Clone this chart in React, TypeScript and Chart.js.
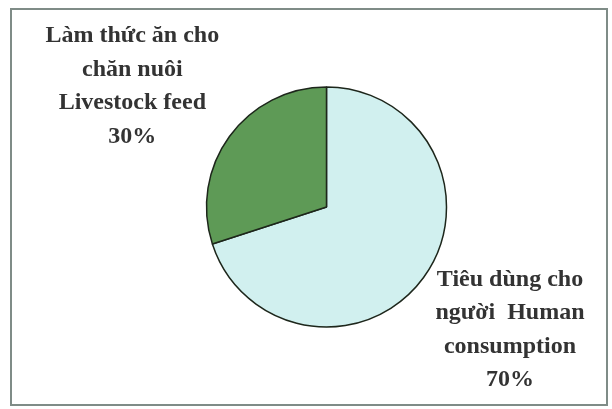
import React, { useEffect, useRef } from "react";
import { Chart, registerables } from "chart.js";

Chart.register(...registerables);

const categories: string[][] = [
  ["Tiêu dùng cho", "người  Human", "consumption"],
  ["Làm thức ăn cho", "chăn nuôi", "Livestock feed"],
];
const shareValues: number[] = [70, 30];
const sliceColors: string[] = ["#d1f0ef", "#5e9a56"];
// label placement factors (relative to outer radius, along slice mid-angle)
const labelFactors: { kx: number; ky: number }[] = [
  { kx: 1.89, ky: 1.74 },
  { kx: 2.0, ky: 1.71 },
];

const FONT = "bold 24px 'Liberation Serif', 'Times New Roman', serif";
const LINE_H = 33.5;

const framePlugin = {
  id: "frame",
  beforeDraw(chart: any) {
    const ctx = chart.ctx as CanvasRenderingContext2D;
    ctx.save();
    ctx.fillStyle = "#ffffff";
    ctx.fillRect(0, 0, chart.width, chart.height);
    ctx.strokeStyle = "#7f8c87";
    ctx.lineWidth = 2;
    ctx.strokeRect(11, 9, 596, 396);
    ctx.restore();
  },
};

const labelPlugin = {
  id: "sliceLabels",
  afterDatasetsDraw(chart: any) {
    const ctx = chart.ctx as CanvasRenderingContext2D;
    const meta = chart.getDatasetMeta(0);
    const data = chart.data.datasets[0].data as number[];
    const total = data.reduce((a, b) => a + b, 0);
    ctx.save();
    ctx.font = FONT;
    ctx.fillStyle = "#333333";
    ctx.textAlign = "center";
    ctx.textBaseline = "middle";
    meta.data.forEach((arc: any, i: number) => {
      const p = arc.getProps(["x", "y", "startAngle", "endAngle", "outerRadius"], true);
      const mid = (p.startAngle + p.endAngle) / 2;
      const f = labelFactors[i];
      const cx = p.x + Math.cos(mid) * p.outerRadius * f.kx;
      const cy = p.y + Math.sin(mid) * p.outerRadius * f.ky;
      const lines = [...categories[i], Math.round((data[i] / total) * 100) + "%"];
      const top = cy - ((lines.length - 1) * LINE_H) / 2;
      lines.forEach((ln, j) => {
        ctx.fillText(ln, cx, top + j * LINE_H);
      });
    });
    ctx.restore();
  },
};

export default function App() {
  const ref = useRef<HTMLCanvasElement | null>(null);
  useEffect(() => {
    if (!ref.current) return;
    const chart = new Chart(ref.current, {
      type: "pie",
      data: {
        labels: categories.map((c) => c.join(" ")),
        datasets: [
          {
            data: shareValues,
            backgroundColor: sliceColors,
            borderColor: "#1d261b",
            borderWidth: 1.5,
            hoverOffset: 0,
          },
        ],
      },
      options: {
        responsive: true,
        maintainAspectRatio: false,
        animation: false,
        events: [],
        radius: 120,
        layout: { padding: { left: 196.5, right: 155.5, top: 77, bottom: 72 } },
        plugins: {
          legend: { display: false },
          tooltip: { enabled: false },
        },
      } as any,
      plugins: [framePlugin, labelPlugin],
    });
    return () => chart.destroy();
  }, []);
  return (
    <div style={{ position: "absolute", left: 0, top: 0, width: 612, height: 409 }}>
      <canvas ref={ref} />
    </div>
  );
}
